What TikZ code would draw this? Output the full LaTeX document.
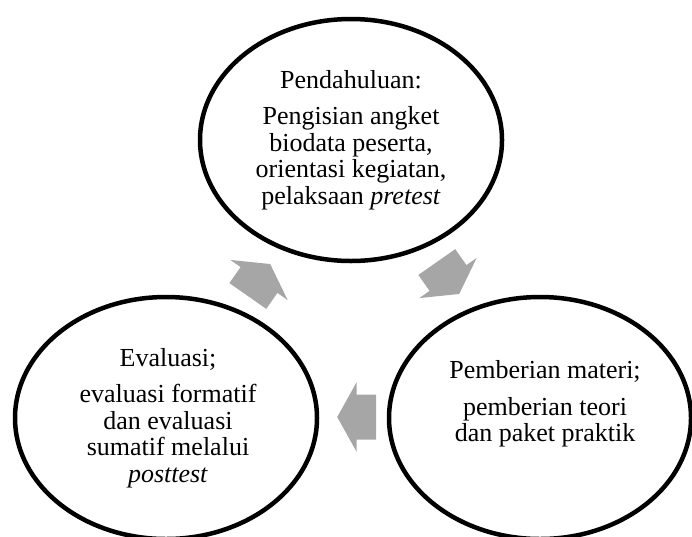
\documentclass[tikz,border=0pt]{standalone}
\usepackage{fontspec}
\setmainfont{Liberation Serif}
\usetikzlibrary{shapes.geometric}
\definecolor{arrowgray}{RGB}{166,166,166}
\begin{document}
\begin{tikzpicture}[x=1pt,y=-1pt,
  ell/.style={draw=black, line width=4.5pt, ellipse, minimum width=302pt, minimum height=242pt, inner sep=0pt},
  txt/.style={font=\fontsize{26}{26.5}\selectfont, align=center, inner sep=0pt, anchor=center},
  cyclearrow/.pic={\fill[arrowgray] (-19.5,-22.5) -- (0,-22.5) -- (0,-35) -- (19.5,0) -- (0,35) -- (0,22.5) -- (-19.5,22.5) -- cycle;}]
\useasboundingbox (0,0) rectangle (692,536);
% ellipses
\node[ell] (top) at (351,140) {};
\node[ell] (left) at (166,418) {};
\node[ell] (right) at (540,418) {};
% texts
\node[txt] (toptxt) at (top.center) {Pendahuluan:\\[10pt]Pengisian angket\\biodata peserta,\\orientasi kegiatan,\\pelaksaan \textit{pretest}};
\node[txt] (lefttxt) at ([xshift=2pt]left.center) {Evaluasi;\\[10pt]evaluasi formatif\\dan evaluasi\\sumatif melalui\\\textit{posttest}};
\node[txt] (righttxt) at ([xshift=5pt,yshift=14pt]right.center) {Pemberian materi;\\[10pt]pemberian teori\\dan paket praktik};
% cycle arrows
\pic[rotate=55] (arrL) at (259,280) {cyclearrow};
\pic[rotate=-55] (arrR) at (448,278) {cyclearrow};
\pic[rotate=180] (arrB) at (356.7,417) {cyclearrow};
\end{tikzpicture}
\end{document}
